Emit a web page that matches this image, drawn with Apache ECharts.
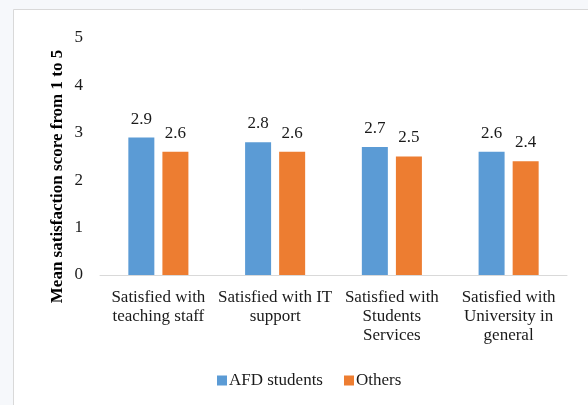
<!DOCTYPE html>
<html>
<head>
<meta charset="utf-8">
<script src="https://cdn.jsdelivr.net/npm/echarts@6/dist/echarts.min.js"></script>
<style>
  html, body { margin: 0; padding: 0; background: #f6f8fb; }
  #chart { width: 588px; height: 405px; }
</style>
</head>
<body>
<div id="chart"></div>
<script>
// Survey categories (line breaks follow the printed wrapping)
const categories = [
  'Satisfied with\nteaching staff',
  'Satisfied with IT\nsupport',
  'Satisfied with\nStudents\nServices',
  'Satisfied with\nUniversity in\ngeneral'
];
const seriesNames = ['AFD students', 'Others'];
const afdValues = [2.9, 2.8, 2.7, 2.6];
const otherValues = [2.6, 2.6, 2.5, 2.4];
const yTicks = [0, 1, 2, 3, 4, 5];
const yTitle = 'Mean satisfaction score from 1 to 5';

const FONT = '"Liberation Serif", "Times New Roman", serif';
const TEXT = '#1a1a1a';

const chart = echarts.init(document.getElementById('chart'), null, { renderer: 'canvas' });

const labelStyle = {
  show: true,
  position: 'top',
  distance: 10,
  fontFamily: FONT,
  fontSize: 17,
  color: TEXT,
  formatter: p => p.value.toFixed(1)
};

chart.setOption({
  animation: false,
  backgroundColor: 'transparent',
  textStyle: { fontFamily: FONT, fontSize: 17, color: TEXT },
  graphic: [
    {
      type: 'rect',
      z: -10,
      silent: true,
      shape: { x: 13.5, y: 9.5, width: 600, height: 420 },
      style: { fill: '#ffffff', stroke: '#d9d9d9', lineWidth: 1 }
    },
    {
      type: 'text',
      x: 58,
      y: 176.5,
      rotation: Math.PI / 2,
      style: {
        text: yTitle,
        fontFamily: FONT,
        fontSize: 17,
        fontWeight: 'bold',
        fill: '#000000',
        align: 'center',
        verticalAlign: 'middle'
      }
    }
  ],
  grid: { left: 100, right: 21, top: 38, bottom: 130, containLabel: false },
  legend: {
    data: seriesNames,
    left: 217,
    top: 372,
    padding: 0,
    itemWidth: 10,
    itemHeight: 10,
    itemGap: 21,
    icon: 'rect',
    textStyle: { fontFamily: FONT, fontSize: 17, color: TEXT, padding: [0, 0, 0, -3] }
  },
  xAxis: {
    type: 'category',
    data: categories,
    axisLine: { show: true, lineStyle: { color: '#d9d9d9', width: 1 } },
    axisTick: { show: false },
    axisLabel: {
      interval: 0,
      margin: 13,
      fontFamily: FONT,
      fontSize: 17,
      lineHeight: 19,
      color: TEXT
    }
  },
  yAxis: {
    type: 'value',
    min: yTicks[0],
    max: yTicks[yTicks.length - 1],
    interval: 1,
    splitLine: { show: false },
    axisLine: { show: false },
    axisTick: { show: false },
    axisLabel: { margin: 17, fontFamily: FONT, fontSize: 17, color: TEXT }
  },
  series: [
    {
      name: seriesNames[0],
      type: 'bar',
      data: afdValues,
      barWidth: 26,
      barGap: '31%',
      itemStyle: { color: '#5b9bd5' },
      label: labelStyle
    },
    {
      name: seriesNames[1],
      type: 'bar',
      data: otherValues,
      barWidth: 26,
      barGap: '31%',
      itemStyle: { color: '#ed7d31' },
      label: labelStyle
    }
  ]
});
</script>
</body>
</html>
